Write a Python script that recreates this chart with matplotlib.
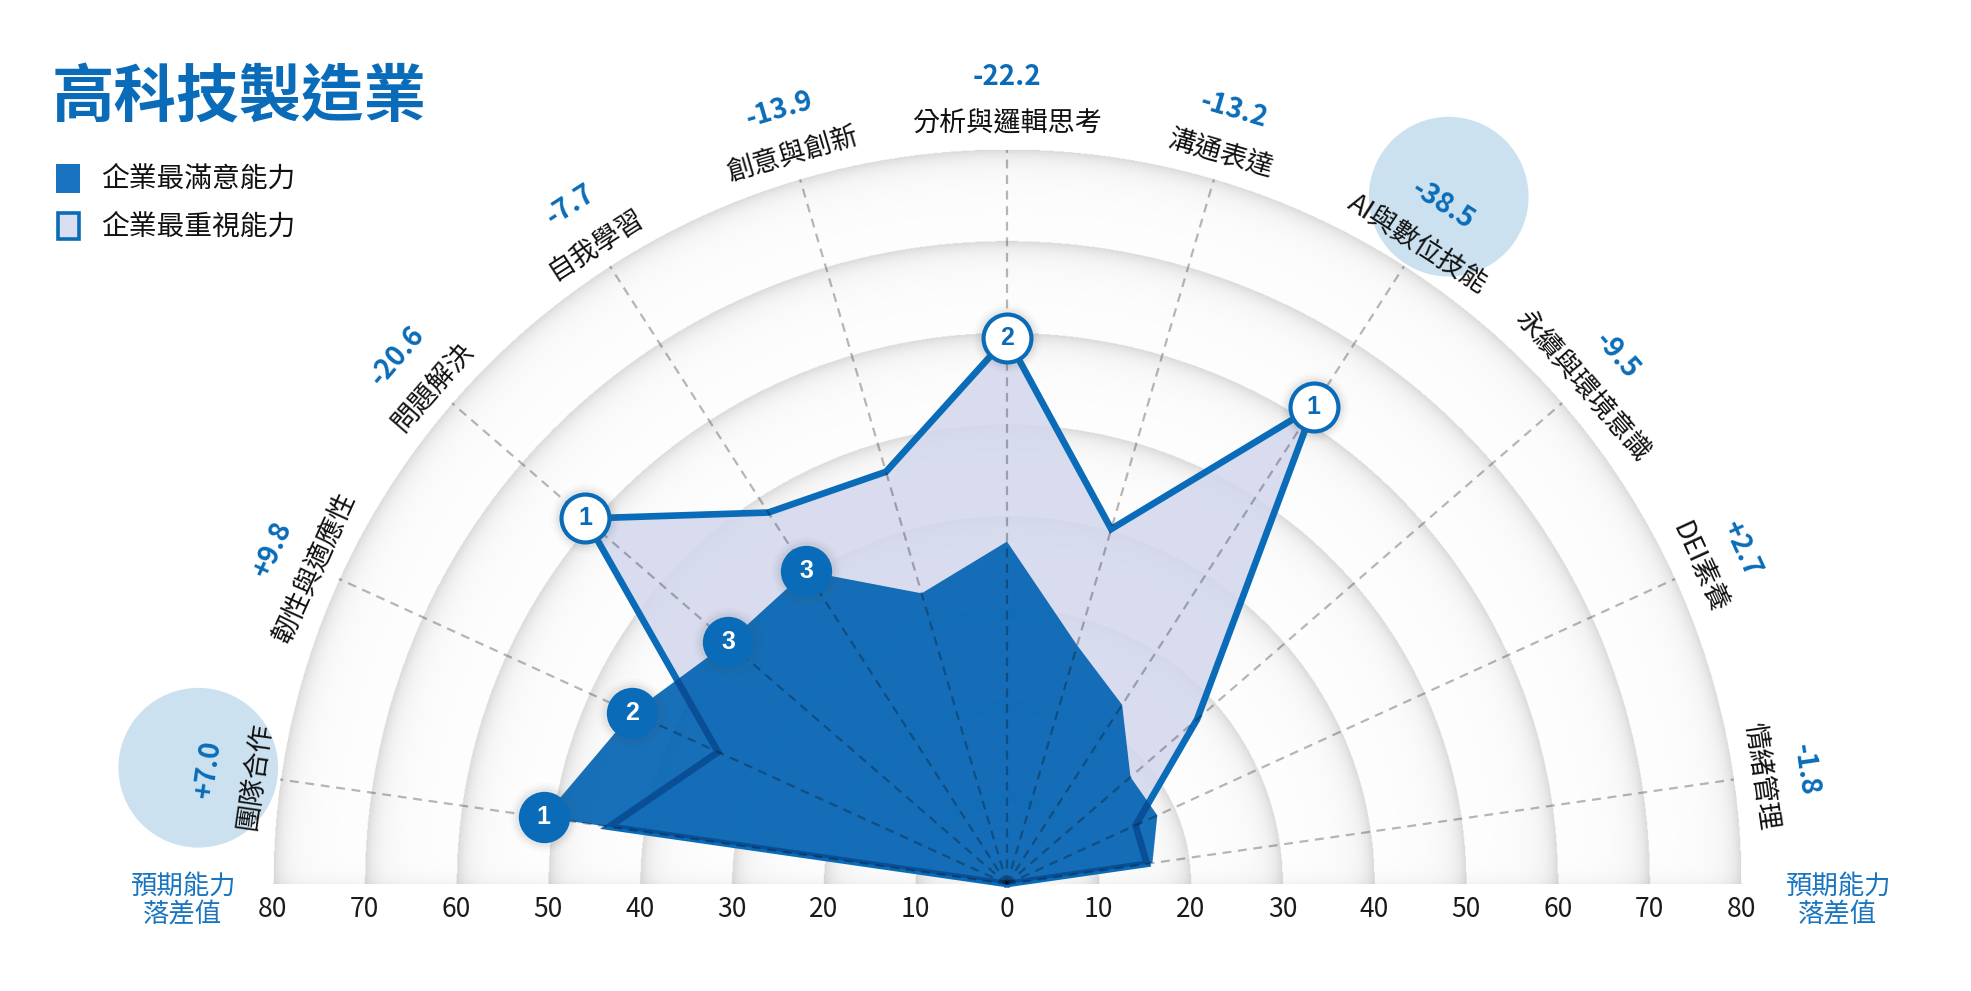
import numpy as np
import matplotlib
matplotlib.use('Agg')
import matplotlib.pyplot as plt
from matplotlib.patches import Rectangle, Circle

plt.rcParams['font.family'] = ['Noto Sans CJK TC', 'DejaVu Sans']

# ---------------- data ----------------
title = '高科技製造業'
legend_labels = ['企業最滿意能力', '企業最重視能力']
categories = ['團隊合作', '韌性與適應性', '問題解決', '自我學習', '創意與創新',
              '分析與邏輯思考', '溝通表達', 'AI與數位技能', '永續與環境意識',
              'DEI素養', '情緒管理']
importance = [43.8, 34.6, 60.8, 48.1, 46.8, 59.5, 40.3, 61.8, 27.4, 15.4, 15.4]
satisfaction = [51.0, 44.9, 40.2, 40.5, 33.0, 37.3, 27.1, 23.2, 17.8, 18.0, 16.0]
gap_labels = ['+7.0', '+9.8', '-20.6', '-7.7', '-13.9', '-22.2', '-13.2',
              '-38.5', '-9.5', '+2.7', '-1.8']
importance_rank = ['', '', '1', '', '', '2', '', '1', '', '', '']
satisfaction_rank = ['1', '2', '3', '3', '', '', '', '', '', '', '']
highlighted = ['團隊合作', 'AI與數位技能']
tick_values = list(range(-80, 81, 10))
tick_labels = [str(abs(v)) for v in tick_values]
side_label = '預期能力\n落差值'
r_max = 80

# ---------------- style ----------------
BLUE = '#0a6cb8'
DARK_FILL = '#0062b1'
LIGHT_FILL = '#d2d7ec'
W, H = 1971, 991
cx_px, cy_px = 1007, 884
ppu = 9.18

fig = plt.figure(figsize=(W / 100, H / 100), dpi=100)
ax = fig.add_axes([0, 0, 1, 1])
ax.axis('off')

n = len(categories)
theta = np.deg2rad(180 - (np.arange(n) + 0.5) * 180 / n)
imp = np.array(importance)
sat = np.array(satisfaction)

# ring shading
N = 1000
xs = np.linspace(-r_max, r_max, 2 * N)
ys = np.linspace(0, r_max, N)
X, Y = np.meshgrid(xs, ys)
R = np.hypot(X, Y)
K = np.ceil(np.maximum(R, 1e-6) / 10) * 10
D = K - R
g = 1 - 0.11 * np.exp(-D / 0.9) - 0.035 * np.exp(-D / 3.5)
g = g - 0.04 * np.exp(-Y / 0.8)
img = np.dstack([g * 0.997, g * 0.997, g, (R <= r_max).astype(float)])
ax.imshow(img, extent=[-r_max, r_max, 0, r_max], origin='lower',
          interpolation='bilinear', zorder=1)

# highlight circles
for cat in highlighted:
    i = categories.index(cat)
    ax.add_patch(Circle((89.0 * np.cos(theta[i]), 89.0 * np.sin(theta[i])), 8.7,
                        color='#cce1f0', lw=0, zorder=0.5))

# polygons (closed through the centre)
ix = np.concatenate([[0], imp * np.cos(theta), [0]])
iy = np.concatenate([[0], imp * np.sin(theta), [0]])
sx = np.concatenate([[0], sat * np.cos(theta), [0]])
sy = np.concatenate([[0], sat * np.sin(theta), [0]])

ax.fill(ix, iy, color=LIGHT_FILL, alpha=0.85, lw=0, zorder=2)
ax.plot(ix, iy, color=BLUE, lw=4.8, zorder=3, solid_joinstyle='miter')
sat_patch = ax.fill(sx, sy, color=DARK_FILL, alpha=0.91, lw=0, zorder=4)[0]
ln = ax.plot(ix, iy, color='#0a4f95', lw=4.8, zorder=4.5, solid_joinstyle='miter')[0]
ln.set_clip_path(sat_patch)

# spokes
for t in theta:
    ax.plot([0, r_max * np.cos(t)], [0, r_max * np.sin(t)], color='black',
            alpha=0.28, lw=1.6, ls=(0, (4, 3)), zorder=5)

# rank markers
def marker(x, y, label, filled):
    for s, a in [(50, 0.025), (46, 0.04), (42, 0.06)]:
        ax.plot(x, y, 'o', ms=s, color='#555555', alpha=a, mec='none', zorder=6)
    if filled:
        ax.plot(x, y, 'o', ms=37, color=BLUE, mec=BLUE, mew=0, zorder=7)
        c = 'white'
    else:
        ax.plot(x, y, 'o', ms=34.5, mfc='white', mec=BLUE, mew=3.0, zorder=7)
        c = BLUE
    ax.text(x, y, label, ha='center', va='center', color=c, fontsize=18,
            fontweight='bold', family=['Liberation Sans', 'DejaVu Sans'], zorder=8)

for i in range(n):
    if importance_rank[i]:
        marker(imp[i] * np.cos(theta[i]), imp[i] * np.sin(theta[i]), importance_rank[i], False)
    if satisfaction_rank[i]:
        marker(sat[i] * np.cos(theta[i]), sat[i] * np.sin(theta[i]), satisfaction_rank[i], True)

# category and gap labels
for i in range(n):
    rot = np.rad2deg(theta[i]) - 90
    ax.text(82.8 * np.cos(theta[i]), 82.8 * np.sin(theta[i]), categories[i],
            rotation=rot, rotation_mode='anchor', ha='center', va='center',
            fontsize=19.5, color='#111111', zorder=9)
    ax.text(87.9 * np.cos(theta[i]), 87.9 * np.sin(theta[i]), gap_labels[i],
            rotation=rot, rotation_mode='anchor', ha='center', va='center',
            fontsize=20, fontweight='bold', color=BLUE, zorder=9)

# bottom ticks
for v, lab in zip(tick_values, tick_labels):
    ax.text(v, -2.8, lab, ha='center', va='center', fontsize=19, color='#1a1a1a')
for sx_ in (-89.8, 90.5):
    ax.text(sx_, -1.8, side_label, ha='center', va='center', fontsize=19,
            color='#1a75c0', linespacing=1.05)

ax.set_xlim(-cx_px / ppu, (W - cx_px) / ppu)
ax.set_ylim(-(H - cy_px) / ppu, cy_px / ppu)

# title and legend
fig.text(52 / W, 1 - 98 / H, title, ha='left', va='center', fontsize=45,
         fontweight='bold', color=BLUE)
fig.add_artist(Rectangle((56 / W, 1 - 193 / H), 24 / W, 29 / H,
                         transform=fig.transFigure, color='#1a73c0', lw=0))
fig.add_artist(Rectangle((57.5 / W, 1 - 239.5 / H), 21 / W, 26 / H,
                         transform=fig.transFigure, facecolor='#dadff0',
                         edgecolor=BLUE, lw=2.6))
fig.text(101 / W, 1 - 179 / H, legend_labels[0], ha='left', va='center',
         fontsize=20, color='#111111')
fig.text(101 / W, 1 - 227 / H, legend_labels[1], ha='left', va='center',
         fontsize=20, color='#111111')

fig.savefig('out.png', dpi=100, facecolor='white')
